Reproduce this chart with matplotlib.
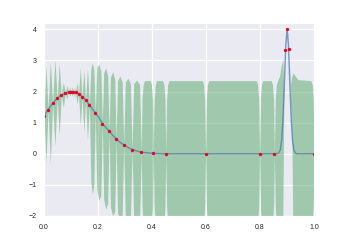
import matplotlib
matplotlib.use("Agg")
import matplotlib.pyplot as plt
import seaborn as sns

# observations (red dots)
obs_x = [0.000, 0.015, 0.032, 0.049, 0.064, 0.079, 0.091, 0.100, 0.109, 0.117,
         0.128, 0.141, 0.154, 0.168, 0.190, 0.216, 0.241, 0.267, 0.295, 0.326,
         0.360, 0.405, 0.451, 0.598, 0.798, 0.853, 0.894, 0.900, 0.907, 1.000]
obs_y = [1.21, 1.42, 1.63, 1.78, 1.89, 1.96, 1.99, 2.00, 1.99, 1.97,
         1.92, 1.83, 1.72, 1.58, 1.30, 0.97, 0.73, 0.47, 0.28, 0.13,
         0.05, 0.01, 0.00, 0.00, 0.00, 0.00, 3.33, 4.00, 3.35, 0.00]

# smooth curve (blue)
curve_x = [0.00, 0.02, 0.04, 0.06, 0.08, 0.10, 0.12, 0.14, 0.16, 0.18,
           0.20, 0.22, 0.24, 0.26, 0.28, 0.30, 0.32, 0.34, 0.36, 0.38,
           0.40, 0.44, 0.86, 0.865, 0.87, 0.875, 0.88, 0.885, 0.89, 0.895,
           0.90, 0.905, 0.91, 0.915, 0.92, 0.925, 0.93, 0.935, 1.00]
curve_y = [1.21, 1.48, 1.70, 1.86, 1.96, 2.00, 1.96, 1.85, 1.67, 1.43,
           1.20, 0.93, 0.74, 0.54, 0.38, 0.26, 0.16, 0.10, 0.05, 0.03,
           0.015, 0.00, 0.00, 0.01, 0.04, 0.13, 0.44, 1.15, 2.29, 3.48,
           4.00, 3.48, 2.29, 1.15, 0.44, 0.13, 0.03, 0.00, 0.00]

# confidence band outline
band_x = [0.000, 0.0075, 0.015, 0.0235, 0.032, 0.0405, 0.049, 0.0565, 0.064,
          0.0715, 0.079, 0.085, 0.091, 0.0955, 0.100, 0.1045, 0.109, 0.113, 0.117, 0.1225, 0.128,
          0.1345, 0.141, 0.1475, 0.154, 0.161, 0.168, 0.1735, 0.179, 0.1845, 0.190,
          0.1955, 0.203, 0.2105, 0.216, 0.221, 0.2285, 0.236, 0.241,
          0.246, 0.254, 0.262, 0.267, 0.2725, 0.281, 0.2895, 0.295,
          0.301, 0.3105, 0.320, 0.326, 0.332, 0.343, 0.354, 0.360,
          0.363, 0.367, 0.372, 0.393, 0.398, 0.402, 0.405,
          0.408, 0.412, 0.417, 0.439, 0.444, 0.448, 0.451,
          0.454, 0.458, 0.463, 0.586, 0.591, 0.595, 0.598,
          0.601, 0.605, 0.610, 0.786, 0.791, 0.795, 0.798,
          0.801, 0.805, 0.810, 0.841, 0.846, 0.850, 0.853,
          0.856, 0.860, 0.865, 0.872, 0.878, 0.884, 0.888, 0.894,
          0.897, 0.900, 0.9035, 0.907, 0.912, 0.918, 0.921, 0.930, 0.940,
          0.988, 0.993, 0.997, 1.000]
band_lo = [1.21, -0.28, 1.42, -0.32, 1.63, 0.25, 1.78, 0.60, 1.89,
           1.50, 1.96, 1.75, 1.99, 1.85, 2.00, 1.85, 1.99, 1.80, 1.97, 1.60, 1.92,
           0.90, 1.83, 0.70, 1.72, 0.45, 1.58, -0.90, -1.30, -1.00, 1.30,
           -1.15, -1.50, -1.35, 0.97, -1.45, -1.78, -1.60, 0.73,
           -1.70, -2.00, -1.85, 0.47, -1.90, -2.10, -1.95, 0.28,
           -2.00, -2.20, -2.05, 0.13, -2.10, -2.30, -2.15, 0.05,
           -1.70, -2.20, -2.35, -2.35, -2.20, -1.70, 0.01,
           -1.70, -2.20, -2.35, -2.35, -2.20, -1.70, 0.00,
           -1.70, -2.20, -2.35, -2.35, -2.20, -1.70, 0.00,
           -1.70, -2.20, -2.35, -2.35, -2.20, -1.70, 0.00,
           -1.70, -2.20, -2.35, -2.35, -2.20, -1.70, 0.00,
           -1.70, -2.20, -2.35, -2.35, -2.30, -2.10, 1.70, 3.33,
           3.80, 4.00, 3.75, 3.35, 1.80, 0.30, -2.20, -2.35, -2.35,
           -2.35, -2.20, -1.70, 0.00]
band_hi = [1.21, 2.84, 1.42, 2.97, 1.63, 3.03, 1.78, 2.90, 1.89,
           2.30, 1.96, 2.20, 1.99, 2.15, 2.00, 2.15, 1.99, 2.15, 1.97, 2.30, 1.92,
           2.75, 1.83, 2.68, 1.72, 2.75, 1.58, 2.75, 2.92, 2.70, 1.30,
           2.75, 2.89, 2.65, 0.97, 2.60, 2.76, 2.50, 0.73,
           2.45, 2.64, 2.40, 0.47, 2.35, 2.50, 2.30, 0.28,
           2.30, 2.43, 2.25, 0.13, 2.25, 2.37, 2.22, 0.05,
           1.75, 2.22, 2.35, 2.35, 2.22, 1.72, 0.01,
           1.72, 2.22, 2.35, 2.35, 2.22, 1.72, 0.00,
           1.72, 2.22, 2.35, 2.35, 2.22, 1.72, 0.00,
           1.72, 2.22, 2.35, 2.35, 2.22, 1.72, 0.00,
           1.72, 2.22, 2.35, 2.35, 2.22, 1.72, 0.00,
           1.72, 2.22, 2.35, 2.50, 2.80, 3.05, 2.00, 3.33,
           3.90, 4.00, 3.85, 3.35, 2.20, 2.50, 2.60, 2.50, 2.38,
           2.35, 2.22, 1.72, 0.00]

sns.set_style("darkgrid")
plt.rcParams["font.family"] = ["Liberation Sans", "DejaVu Sans"]

fig = plt.figure(figsize=(3.49, 2.40), dpi=100)
ax = fig.add_axes([0.126, 0.1, 0.774, 0.804])

ax.fill_between(band_x, band_lo, band_hi, color="#55A868", alpha=0.5, lw=0)
ax.plot(curve_x, curve_y, color="#4C72B0", alpha=0.7, lw=1.0)
ax.plot(obs_x, obs_y, "o", color="#ee0022", ms=2.4, mew=0)

ax.set_xlim(0, 1)
ax.set_ylim(-2, 4.2)
ax.set_yticks([-2, -1, 0, 1, 2, 3, 4])
ax.tick_params(labelsize=5, pad=2)
ax.grid(True, color="white", lw=0.9)

fig.savefig("out.png", dpi=100)
